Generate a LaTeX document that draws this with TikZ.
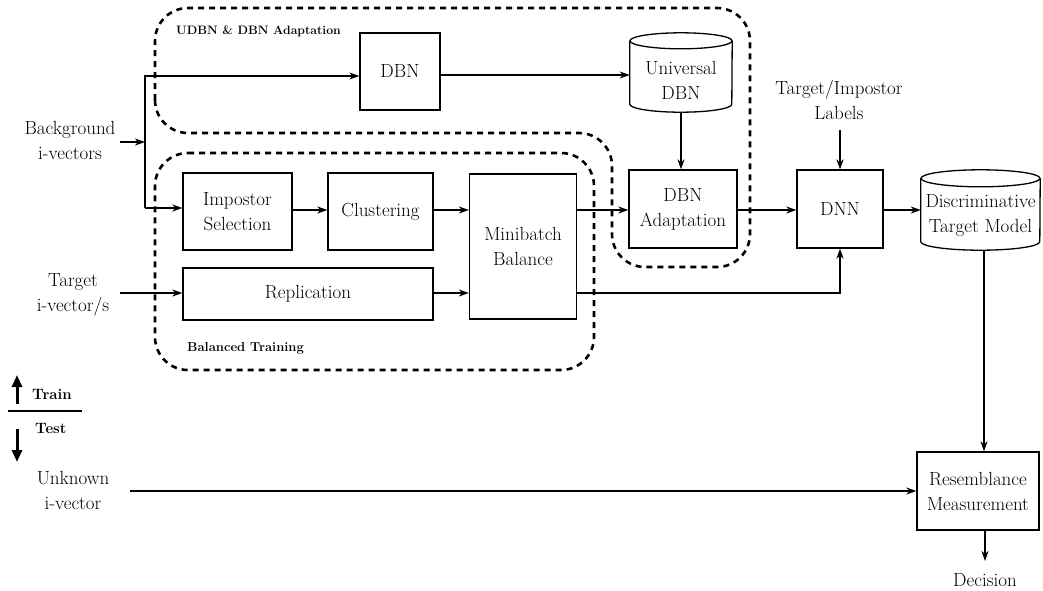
\documentclass[tikz,border=0pt]{standalone}
\usetikzlibrary{arrows.meta,calc}
\begin{document}
\begin{tikzpicture}[x=1pt,y=-1pt,
  box/.style={draw, line width=1.3pt, inner sep=0pt, align=center, font=\fontsize{19}{25}\selectfont},
  ghost/.style={inner sep=0pt, draw=none},
  lbl/.style={font=\fontsize{19}{25}\selectfont, align=center, inner sep=0pt},
  reg/.style={draw, line width=2.6pt, dash pattern=on 6pt off 5pt, rounded corners=33pt},
  rlbl/.style={font=\fontsize{13}{16}\selectfont\bfseries, anchor=west, inner sep=0pt},
  arr/.style={-{Stealth[length=10pt,width=7pt,inset=3pt]}, line width=1.3pt},
  ln/.style={line width=1.3pt},
  bigarr/.style={-{Triangle[length=12pt,width=10pt]}, line width=3pt}
]
\useasboundingbox (0,0) rectangle (1043,590);

% dashed regions
\draw[reg] (155,133) -- (155,8) -- (750,8) -- (750,267) -- (612,267) -- (612,133) -- cycle;
\draw[reg] (155,153) -- (594,153) -- (594,370) -- (155,370) -- cycle;
\node[rlbl, font=\fontsize{12.2}{16}\selectfont\bfseries] (ulbl) at (176,31) {UDBN \& DBN Adaptation};
\node[rlbl] (blbl) at (187,348) {Balanced Training};

% boxes
\node[box, minimum width=80, minimum height=77] (dbn) at (400,71.5) {DBN};
\node[ghost, minimum width=102, minimum height=79] (udbn) at (681,72.5) {};
\node[lbl] (udbnT) at (681,80) {Universal\\DBN};
\node[box, minimum width=108, minimum height=78] (adapt) at (683,209) {DBN\\Adaptation};
\node[box, minimum width=86, minimum height=78] (dnn) at (840,209) {DNN};
\node[ghost, minimum width=119, minimum height=80] (dtm) at (980.5,210) {};
\node[lbl] (dtmT) at (980.5,215) {Discriminative\\Target Model};
\node[box, minimum width=122, minimum height=78] (res) at (978,491) {Resemblance\\Measurement};
\node[box, minimum width=109, minimum height=77] (imp) at (237.5,211.5) {Impostor\\Selection};
\node[box, minimum width=105, minimum height=77] (clu) at (380.5,211.5) {Clustering};
\node[box, minimum width=107, minimum height=145] (mini) at (523,246.5) {Minibatch\\Balance};
\node[box, minimum width=250, minimum height=52] (rep) at (308,294) {Replication};

% cylinders
\draw[ln] ($(udbn.north)+(0,8)$) ellipse [x radius=51, y radius=8];
\draw[ln] ($(udbn.north west)+(0,8)$) -- ($(udbn.south west)+(0,-8)$) arc[start angle=180, end angle=0, x radius=51, y radius=8] -- ($(udbn.north east)+(0,8)$);
\draw[ln] ($(dtm.north)+(0,8.5)$) ellipse [x radius=59.5, y radius=8.5];
\draw[ln] ($(dtm.north west)+(0,8.5)$) -- ($(dtm.south west)+(0,-8.5)$) arc[start angle=180, end angle=0, x radius=59.5, y radius=8.5] -- ($(dtm.north east)+(0,8.5)$);

% text labels
\node[lbl] (bg) at (70,140) {Background\\i-vectors};
\node[lbl] (tgt) at (73,295) {Target\\i-vector/s};
\node[lbl] (unk) at (73,490) {Unknown\\i-vector};
\node[lbl] (tl) at (839,100) {Target/Impostor\\Labels};
\node[lbl] (dec) at (985,580) {Decision};

% connectors
\coordinate (sp) at (145,142);
\draw[arr] (120,142) -- (sp);
\draw[ln] ($(sp)+(0,-67)$) -- ($(sp)+(0,66)$);
\draw[arr] ($(sp)+(0,-66)$) -- (dbn.west |- 0,76);
\draw[arr] ($(sp)+(0,66)$) -- (imp.west |- 0,208);
\draw[arr] (dbn.east |- 0,75) -- (udbn.west |- 0,75);
\draw[arr] (udbn.south -| 681,0) -- (adapt.north -| 681,0);
\draw[arr] (imp.east |- 0,210) -- (clu.west |- 0,210);
\draw[arr] (clu.east |- 0,210) -- (mini.west |- 0,210);
\draw[arr] (120,293) -- (rep.west |- 0,293);
\draw[arr] (rep.east |- 0,293) -- (mini.west |- 0,293);
\draw[arr] (mini.east |- 0,210) -- (adapt.west |- 0,210);
\draw[arr] (adapt.east |- 0,210) -- (dnn.west |- 0,210);
\draw[arr] (mini.east |- 0,293) -| (dnn.south);
\draw[arr] (dnn.north |- 0,130) -- (dnn.north);
\draw[arr] (dnn.east |- 0,210) -- (dtm.west |- 0,210);
\draw[arr] (dtm.south -| 984,0) -- (res.north -| 984,0);
\draw[arr] (130,491) -- (res.west |- 0,491);
\draw[arr] (res.south -| 985,0) -- (985,561);

% train / test
\coordinate (trA) at (17,404);
\coordinate (trB) at (17,375);
\coordinate (teA) at (17,429);
\coordinate (teB) at (17,462);
\draw[bigarr] (trA) -- (trB);
\draw[bigarr] (teA) -- (teB);
\draw[line width=2pt] (8,411) -- (82,411);
\node[rlbl, font=\fontsize{15}{18}\selectfont\bfseries] (train) at (32,394) {Train};
\node[rlbl, font=\fontsize{15}{18}\selectfont\bfseries] (test) at (35,428) {Test};
\end{tikzpicture}
\end{document}
